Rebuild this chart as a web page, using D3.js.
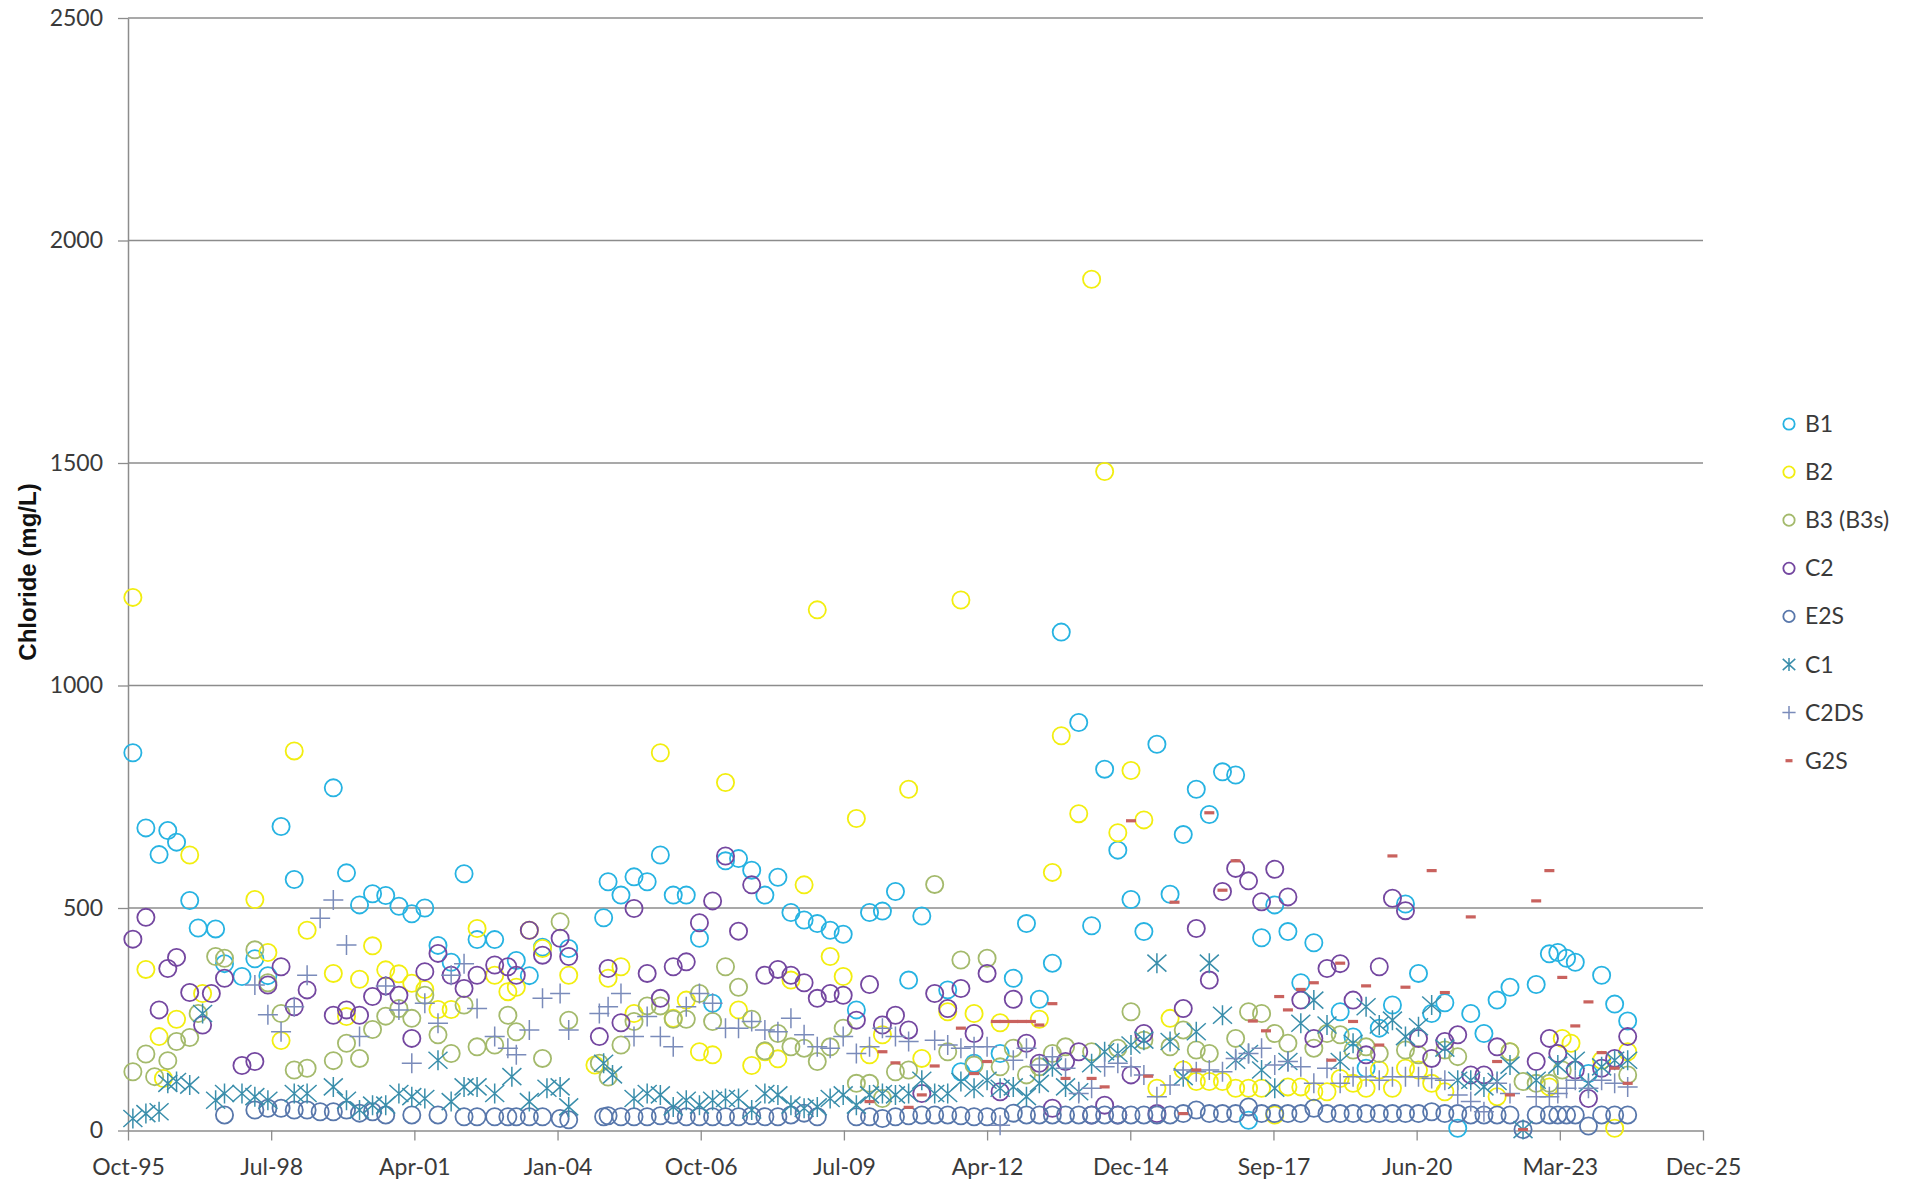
<!DOCTYPE html>
<html>
<head>
<meta charset="utf-8">
<script src="https://cdn.jsdelivr.net/npm/d3@7"></script>
<style>
  body { margin: 0; background: #fff; }
  svg { display: block; }
</style>
</head>
<body>
<div class="chart"></div>
<script>
// sample dates (year-month) and chloride values, one list per well
var b1 = [["1995-12",849],["1996-03",680],["1996-06",620],["1996-08",674],["1996-10",648],["1997-01",517],["1997-03",455],["1997-07",453],["1997-09",375],["1998-01",346],["1998-04",386],["1998-07",348],["1998-10",683],["1999-01",564],["1999-10",770],["2000-01",579],["2000-04",507],["2000-07",532],["2000-10",528],["2001-01",504],["2001-04",487],["2001-07",500],["2001-10",416],["2002-01",378],["2002-04",577],["2002-07",429],["2002-11",429],["2003-04",382],["2003-07",348],["2003-10",412],["2004-04",409],["2004-12",478],["2005-01",559],["2005-04",529],["2005-07",570],["2005-10",559],["2006-01",619],["2006-04",529],["2006-07",529],["2006-10",432],["2007-01",286],["2007-04",606],["2007-07",611],["2007-10",585],["2008-01",529],["2008-04",569],["2008-07",490],["2008-10",473],["2009-01",465],["2009-04",450],["2009-07",441],["2009-10",271],["2010-01",490],["2010-04",493],["2010-07",537],["2010-10",338],["2011-01",482],["2011-07",316],["2011-10",132],["2012-01",151],["2012-07",173],["2012-10",342],["2013-01",465],["2013-04",295],["2013-07",376],["2013-09",1120],["2014-01",917],["2014-04",460],["2014-07",812],["2014-10",630],["2015-01",519],["2015-04",447],["2015-07",868],["2015-10",531],["2016-01",665],["2016-04",767],["2016-07",710],["2016-10",806],["2017-01",799],["2017-04",23],["2017-07",433],["2017-10",507],["2018-01",447],["2018-04",332],["2018-07",422],["2019-01",267],["2019-04",210],["2019-07",140],["2019-10",230],["2020-01",282],["2020-04",509],["2020-07",353],["2020-10",263],["2021-01",287],["2021-04",5],["2021-07",263],["2021-10",218],["2022-01",293],["2022-04",322],["2022-10",328],["2023-01",397],["2023-03",400],["2023-05",387],["2023-07",378],["2023-10",128],["2024-01",349],["2024-04",284],["2024-07",246]];

var b2 = [["1995-12",1198],["1996-03",362],["1996-06",211],["1996-07",117],["1996-10",250],["1997-01",619],["1997-04",308],["1998-04",519],["1998-07",400],["1998-10",202],["1999-01",853],["1999-04",450],["1999-10",353],["2000-01",256],["2000-04",340],["2000-07",415],["2000-10",361],["2001-01",352],["2001-04",331],["2001-07",317],["2001-10",272],["2002-01",272],["2002-07",454],["2002-11",349],["2003-02",312],["2003-04",322],["2003-07",450],["2003-10",409],["2004-04",349],["2004-10",147],["2005-01",342],["2005-04",368],["2005-07",263],["2006-01",849],["2006-04",252],["2006-07",293],["2006-10",177],["2007-01",170],["2007-04",782],["2007-07",271],["2007-10",146],["2008-01",177],["2008-04",161],["2008-07",338],["2008-10",552],["2009-01",1170],["2009-04",391],["2009-07",346],["2009-10",701],["2010-01",170],["2010-04",215],["2010-10",767],["2011-01",162],["2011-07",267],["2011-10",1192],["2012-01",263],["2012-07",242],["2013-04",250],["2013-07",580],["2013-09",887],["2014-01",712],["2014-04",1913],["2014-07",1481],["2014-10",669],["2015-01",809],["2015-04",698],["2015-07",95],["2015-10",252],["2016-01",136],["2016-04",110],["2016-07",110],["2016-10",110],["2017-01",95],["2017-04",95],["2017-07",95],["2017-10",35],["2018-01",98],["2018-04",98],["2018-07",87],["2018-10",87],["2019-01",117],["2019-04",106],["2019-07",95],["2019-10",136],["2020-01",95],["2020-04",140],["2020-07",136],["2020-10",106],["2021-01",87],["2022-01",76],["2022-04",177],["2023-01",98],["2023-04",207],["2023-06",196],["2024-01",158],["2024-04",5],["2024-07",177]];

var b3 = [["1995-12",132],["1996-03",172],["1996-05",121],["1996-08",157],["1996-10",200],["1997-01",209],["1997-03",263],["1997-07",391],["1997-09",387],["1998-04",406],["1998-07",332],["1998-10",263],["1999-01",136],["1999-04",140],["1999-10",157],["2000-01",196],["2000-04",162],["2000-07",227],["2000-10",257],["2001-01",274],["2001-04",252],["2001-07",304],["2001-10",215],["2002-01",173],["2002-04",282],["2002-07",188],["2002-11",192],["2003-02",259],["2003-04",222],["2003-10",162],["2004-02",469],["2004-04",248],["2004-11",151],["2005-01",120],["2005-04",192],["2005-07",245],["2005-10",280],["2006-01",280],["2006-04",250],["2006-07",250],["2006-10",308],["2007-01",245],["2007-04",368],["2007-07",322],["2007-10",250],["2008-01",179],["2008-04",218],["2008-07",188],["2008-10",185],["2009-01",155],["2009-04",188],["2009-07",230],["2009-10",106],["2010-01",106],["2010-04",72],["2010-07",132],["2010-10",136],["2011-04",553],["2011-07",177],["2011-10",383],["2012-01",147],["2012-04",387],["2012-07",143],["2012-10",185],["2013-01",125],["2013-04",143],["2013-07",173],["2013-10",188],["2014-04",177],["2014-10",185],["2015-01",267],["2015-04",203],["2015-10",188],["2016-01",226],["2016-04",181],["2016-07",173],["2017-01",207],["2017-04",267],["2017-07",263],["2017-10",218],["2018-01",196],["2018-07",185],["2018-10",218],["2019-01",215],["2019-04",181],["2019-07",188],["2019-10",173],["2020-04",181],["2020-07",170],["2021-01",181],["2021-04",166],["2022-04",177],["2022-07",110],["2022-10",106],["2023-01",106],["2023-04",136],["2024-07",125]];

var c2 = [["1995-12",430],["1996-03",479],["1996-06",271],["1996-08",364],["1996-10",389],["1997-01",310],["1997-04",237],["1997-06",308],["1997-09",342],["1998-01",146],["1998-04",155],["1998-07",327],["1998-10",368],["1999-01",278],["1999-04",316],["1999-10",259],["2000-01",271],["2000-04",259],["2000-07",301],["2000-10",325],["2001-01",304],["2001-04",207],["2001-07",357],["2001-10",398],["2002-01",349],["2002-04",319],["2002-07",349],["2002-11",372],["2003-02",368],["2003-04",349],["2003-07",450],["2003-10",394],["2004-02",432],["2004-04",391],["2004-11",211],["2005-01",364],["2005-04",242],["2005-07",499],["2005-10",353],["2006-01",297],["2006-04",368],["2006-07",379],["2006-10",467],["2007-01",516],["2007-04",617],["2007-07",448],["2007-10",552],["2008-01",349],["2008-04",362],["2008-07",349],["2008-10",332],["2009-01",297],["2009-04",308],["2009-07",304],["2009-10",248],["2010-01",328],["2010-04",237],["2010-07",259],["2010-10",226],["2011-01",83],["2011-04",308],["2011-07",274],["2011-10",319],["2012-01",218],["2012-04",353],["2012-07",87],["2012-10",295],["2013-01",196],["2013-04",151],["2013-07",50],["2013-10",155],["2014-01",177],["2014-04",35],["2014-07",57],["2014-10",35],["2015-01",125],["2015-04",218],["2015-07",38],["2016-01",274],["2016-04",454],["2016-07",338],["2016-10",537],["2017-01",589],["2017-04",561],["2017-07",514],["2017-10",587],["2018-01",525],["2018-04",293],["2018-07",207],["2018-10",364],["2019-01",375],["2019-04",293],["2019-07",170],["2019-10",368],["2020-01",522],["2020-04",494],["2020-07",207],["2020-10",162],["2021-01",200],["2021-04",215],["2021-07",125],["2021-10",125],["2022-01",188],["2022-10",155],["2023-01",207],["2023-03",173],["2023-07",136],["2023-10",72],["2024-01",140],["2024-04",162],["2024-07",211]];

var e2s = [["1997-09",35],["1998-04",46],["1998-07",50],["1998-10",50],["1999-01",46],["1999-04",46],["1999-07",42],["1999-10",42],["2000-01",46],["2000-04",39],["2000-07",42],["2000-10",35],["2001-04",35],["2001-10",35],["2002-04",31],["2002-07",31],["2002-11",31],["2003-02",31],["2003-04",31],["2003-07",31],["2003-10",31],["2004-02",27],["2004-04",24],["2004-12",31],["2005-01",33],["2005-04",31],["2005-07",31],["2005-10",31],["2006-01",33],["2006-04",35],["2006-07",31],["2006-10",31],["2007-01",31],["2007-04",31],["2007-07",31],["2007-10",33],["2008-01",31],["2008-04",31],["2008-07",35],["2008-10",39],["2009-01",31],["2009-10",31],["2010-01",31],["2010-04",27],["2010-07",31],["2010-10",33],["2011-01",35],["2011-04",35],["2011-07",35],["2011-10",33],["2012-01",31],["2012-04",31],["2012-07",31],["2012-10",39],["2013-01",35],["2013-04",35],["2013-07",35],["2013-10",35],["2014-01",35],["2014-04",35],["2014-07",35],["2014-10",35],["2015-01",35],["2015-04",35],["2015-07",35],["2015-10",35],["2016-01",38],["2016-04",46],["2016-07",38],["2016-10",38],["2017-01",38],["2017-04",53],["2017-07",38],["2017-10",38],["2018-01",38],["2018-04",38],["2018-07",50],["2018-10",38],["2019-01",38],["2019-04",38],["2019-07",38],["2019-10",38],["2020-01",38],["2020-04",38],["2020-07",38],["2020-10",42],["2021-01",38],["2021-04",38],["2021-07",35],["2021-10",35],["2022-01",35],["2022-04",35],["2022-07",2],["2022-10",35],["2023-01",35],["2023-03",35],["2023-05",35],["2023-07",35],["2023-10",10],["2024-01",35],["2024-04",35],["2024-07",35]];

var c1 = [["1995-12",27],["1996-03",38],["1996-06",42],["1996-08",106],["1996-10",110],["1997-01",102],["1997-04",263],["1997-07",68],["1997-09",83],["1998-01",83],["1998-04",76],["1998-07",68],["1999-01",83],["1999-04",83],["1999-10",98],["2000-01",68],["2000-04",46],["2000-07",57],["2000-10",57],["2001-01",83],["2001-04",76],["2001-07",72],["2001-10",158],["2002-01",65],["2002-04",98],["2002-07",98],["2002-11",83],["2003-03",121],["2003-07",65],["2003-11",95],["2004-02",98],["2004-04",53],["2004-12",151],["2005-02",125],["2005-07",72],["2005-10",83],["2006-01",80],["2006-04",53],["2006-07",68],["2006-10",57],["2007-01",68],["2007-04",72],["2007-07",72],["2007-10",46],["2008-01",83],["2008-04",80],["2008-07",57],["2008-10",50],["2009-01",53],["2009-04",72],["2009-07",80],["2009-10",57],["2010-01",80],["2010-04",83],["2010-07",80],["2010-10",83],["2011-01",113],["2011-04",83],["2011-07",83],["2011-10",110],["2012-01",95],["2012-04",113],["2012-07",95],["2012-10",98],["2013-01",76],["2013-04",106],["2013-07",143],["2013-10",98],["2014-01",87],["2014-04",150],["2014-07",177],["2014-10",173],["2015-01",192],["2015-04",203],["2015-07",376],["2015-10",200],["2016-01",121],["2016-04",222],["2016-07",376],["2016-10",259],["2017-01",158],["2017-04",173],["2017-07",136],["2017-10",95],["2018-01",155],["2018-04",241],["2018-07",293],["2018-10",237],["2019-01",155],["2019-04",196],["2019-07",278],["2019-10",237],["2020-01",248],["2020-04",211],["2020-07",233],["2020-10",282],["2021-01",185],["2021-04",113],["2021-07",113],["2021-10",98],["2022-01",110],["2022-04",147],["2022-07",2],["2022-10",113],["2023-03",147],["2023-07",158],["2023-10",106],["2024-01",143],["2024-04",158],["2024-07",158]];

var c2ds = [["1998-04",327],["1998-07",260],["1998-10",222],["1999-01",278],["1999-04",349],["1999-07",477],["1999-10",518],["2000-01",417],["2000-04",211],["2000-10",325],["2001-01",271],["2001-04",151],["2001-07",286],["2001-10",241],["2002-01",349],["2002-04",375],["2002-07",274],["2002-11",211],["2003-02",185],["2003-04",170],["2003-07",226],["2003-10",297],["2004-02",308],["2004-04",226],["2004-11",263],["2005-01",278],["2005-04",308],["2005-07",211],["2005-10",256],["2006-01",211],["2006-04",188],["2006-07",278],["2006-10",308],["2007-01",286],["2007-04",230],["2007-07",230],["2007-10",245],["2008-01",226],["2008-04",222],["2008-07",252],["2008-10",215],["2009-01",188],["2009-04",185],["2009-07",211],["2009-10",173],["2010-01",188],["2010-04",230],["2010-07",211],["2010-10",200],["2011-04",203],["2011-07",192],["2011-10",185],["2012-01",188],["2012-04",188],["2012-07",12],["2012-10",158],["2013-01",185],["2013-04",147],["2013-07",166],["2013-10",140],["2014-01",83],["2014-04",95],["2014-07",143],["2014-10",151],["2015-01",143],["2015-04",125],["2015-07",76],["2015-10",102],["2016-01",136],["2016-04",132],["2016-07",136],["2016-10",132],["2017-01",162],["2017-04",173],["2017-07",185],["2017-10",147],["2018-01",155],["2018-04",143],["2018-07",106],["2018-10",140],["2019-01",106],["2019-04",121],["2019-07",121],["2019-10",113],["2020-01",121],["2020-04",121],["2020-07",121],["2020-10",117],["2021-01",113],["2021-04",80],["2021-07",65],["2021-10",42],["2022-01",106],["2022-04",83],["2022-10",76],["2023-01",76],["2023-03",83],["2023-05",95],["2023-07",113],["2023-10",95],["2024-01",113],["2024-04",106],["2024-07",98]];

var g2s = [["2010-01",65],["2010-04",177],["2010-07",152],["2010-10",52],["2011-01",80],["2011-04",145],["2011-10",230],["2012-01",128],["2012-04",155],["2012-06",245],["2012-08",245],["2012-10",245],["2012-12",245],["2013-02",245],["2013-04",237],["2013-07",285],["2013-10",117],["2014-04",117],["2014-07",98],["2015-01",696],["2015-05",122],["2015-11",513],["2016-01",38],["2016-04",136],["2016-07",714],["2016-10",540],["2017-01",606],["2017-05",246],["2017-08",224],["2017-11",301],["2018-01",271],["2018-04",317],["2018-07",332],["2018-11",158],["2019-01",376],["2019-04",245],["2019-07",325],["2019-10",192],["2020-01",617],["2020-04",322],["2020-10",584],["2021-01",310],["2021-07",480],["2022-01",155],["2022-04",80],["2022-07",2],["2022-10",516],["2023-01",584],["2023-04",344],["2023-07",235],["2023-10",289],["2024-01",175],["2024-04",140],["2024-07",106]];

// axis ticks: spreadsheet date serials, 1000 days apart
var xTickSerials = [35000, 36000, 37000, 38000, 39000, 40000, 41000, 42000, 43000, 44000, 45000, 46000];
var xTickLabels = ["Oct-95", "Jul-98", "Apr-01", "Jan-04", "Oct-06", "Jul-09", "Apr-12", "Dec-14", "Sep-17", "Jun-20", "Mar-23", "Dec-25"];
var yTickValues = [0, 500, 1000, 1500, 2000, 2500];

var seriesNames = ["B1", "B2", "B3 (B3s)", "C2", "E2S", "C1", "C2DS", "G2S"];

var svgWidth = 1919;
var svgHeight = 1184;

var parseMonth = d3.utcParse("%Y-%m");
var serialToDate = function(s) { return new Date(Date.UTC(1899, 11, 30) + s * 864e5); };

var series = [
  { name: seriesNames[0], data: b1,   color: "#27b3e2", shape: "circle" },
  { name: seriesNames[1], data: b2,   color: "#f2ee10", shape: "circle" },
  { name: seriesNames[2], data: b3,   color: "#a4ba6c", shape: "circle" },
  { name: seriesNames[3], data: c2,   color: "#7447a0", shape: "circle" },
  { name: seriesNames[4], data: e2s,  color: "#5877ab", shape: "circle" },
  { name: seriesNames[5], data: c1,   color: "#3a8eab", shape: "star" },
  { name: seriesNames[6], data: c2ds, color: "#7a8bba", shape: "plus" },
  { name: seriesNames[7], data: g2s,  color: "#c9625e", shape: "dash" }
];

var svg = d3.select(".chart")
  .append("svg")
  .attr("width", svgWidth)
  .attr("height", svgHeight);

var xScale = d3.scaleUtc()
  .domain([serialToDate(35000), serialToDate(46000)])
  .range([128, 1703]);

var yScale = d3.scaleLinear()
  .domain([0, 2500])
  .range([1130.5, 18]);

var axisColor = "#8c8c8c";
var textColor = "#3a3a3a";
var tickFont = "Lato, 'Open Sans', sans-serif";

// horizontal gridlines
svg.append("g")
  .selectAll("line")
  .data(yTickValues.filter(d => d > 0))
  .enter()
  .append("line")
  .attr("x1", xScale.range()[0])
  .attr("x2", xScale.range()[1])
  .attr("y1", d => yScale(d))
  .attr("y2", d => yScale(d))
  .attr("stroke", axisColor)
  .attr("stroke-width", 1.3);

// y axis
var leftAxis = d3.axisLeft(yScale)
  .tickValues(yTickValues)
  .tickFormat(d3.format("d"))
  .tickSize(10)
  .tickSizeOuter(0)
  .tickPadding(15);

var yAxisG = svg.append("g")
  .attr("transform", `translate(${xScale.range()[0]},0)`)
  .call(leftAxis);

// x axis
var bottomAxis = d3.axisBottom(xScale)
  .tickValues(xTickSerials.map(serialToDate))
  .tickFormat((d, i) => xTickLabels[i])
  .tickSize(10)
  .tickSizeOuter(0)
  .tickPadding(18);

var xAxisG = svg.append("g")
  .attr("transform", `translate(0,${yScale(0)})`)
  .call(bottomAxis);

[yAxisG, xAxisG].forEach(function(g) {
  g.select(".domain").attr("stroke", axisColor).attr("stroke-width", 1.5);
  g.selectAll(".tick line").attr("stroke", axisColor).attr("stroke-width", 1.3);
  g.selectAll(".tick text")
    .attr("fill", textColor)
    .style("font-family", tickFont)
    .style("font-size", "23px");
});

// axis title
svg.append("text")
  .attr("transform", "translate(36,572) rotate(-90)")
  .attr("text-anchor", "middle")
  .style("font-family", "'Liberation Sans', Arial, sans-serif")
  .style("font-weight", "bold")
  .style("font-size", "24px")
  .attr("fill", "#111")
  .text("Chloride (mg/L)");

// marker drawing
function drawMarker(sel, shape, color, k) {
  if (shape === "circle") {
    sel.append("circle")
      .attr("r", 8.6 * k)
      .attr("fill", "none")
      .attr("stroke", color)
      .attr("stroke-width", 1.8);
  } else if (shape === "star") {
    var a = 10 * k, w = 9.5 * k;
    sel.append("path")
      .attr("d", `M0,${-a}V${a}M${-w},${-a * 0.85}L${w},${a * 0.85}M${-w},${a * 0.85}L${w},${-a * 0.85}`)
      .attr("fill", "none")
      .attr("stroke", color)
      .attr("stroke-width", 1.5);
  } else if (shape === "plus") {
    var p = 10 * k;
    sel.append("path")
      .attr("d", `M${-p},0H${p}M0,${-p}V${p}`)
      .attr("fill", "none")
      .attr("stroke", color)
      .attr("stroke-width", 1.5);
  } else {
    sel.append("rect")
      .attr("x", -5 * k)
      .attr("y", -1.6)
      .attr("width", 10 * k)
      .attr("height", 3.2)
      .attr("fill", color);
  }
}

// plot points, series by series
var plot = svg.append("g");
series.forEach(function(s) {
  plot.append("g")
    .selectAll("g")
    .data(s.data)
    .enter()
    .append("g")
    .attr("transform", d => `translate(${xScale(parseMonth(d[0]))},${yScale(d[1])})`)
    .each(function() { drawMarker(d3.select(this), s.shape, s.color, 1); });
});

// legend
var legend = svg.append("g")
  .attr("transform", "translate(1789,424)");

series.forEach(function(s, i) {
  var row = legend.append("g")
    .attr("transform", `translate(0,${i * 48.1})`);
  drawMarker(row, s.shape, s.color, s.shape === "dash" ? 0.7 : 0.66);
  row.append("text")
    .attr("x", 16)
    .attr("y", 8)
    .attr("fill", textColor)
    .style("font-family", tickFont)
    .style("font-size", "23px")
    .text(s.name);
});
</script>
</body>
</html>
